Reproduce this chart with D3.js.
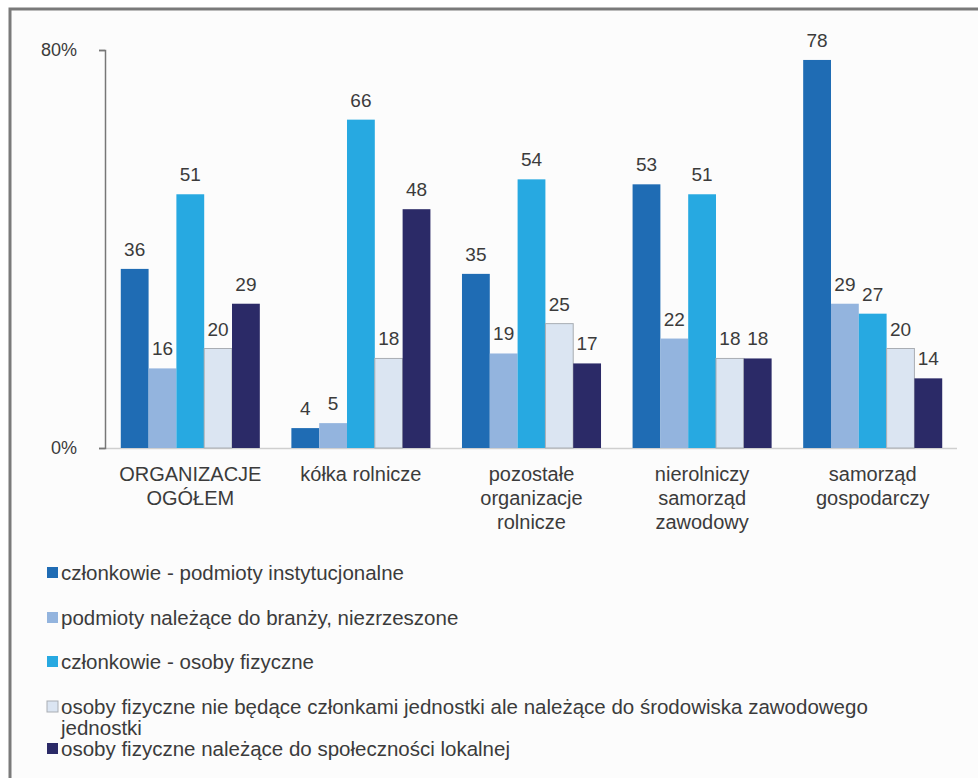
<!DOCTYPE html>
<html>
<head>
<meta charset="utf-8">
<script src="https://cdn.jsdelivr.net/npm/d3@7"></script>
<style>
  html, body { margin: 0; padding: 0; background: #ffffff; }
  svg { display: block; font-family: "Liberation Sans", Arial, sans-serif; }
</style>
</head>
<body>
<div id="chart"></div>
<script>
// categories (line breaks as in the picture)
const categories = [
  ["ORGANIZACJE", "OGÓŁEM"],
  ["kółka rolnicze"],
  ["pozostałe", "organizacje", "rolnicze"],
  ["nierolniczy", "samorząd", "zawodowy"],
  ["samorząd", "gospodarczy"]
];

const seriesNames = [
  "członkowie - podmioty instytucjonalne",
  "podmioty należące do branży, niezrzeszone",
  "członkowie - osoby fizyczne",
  "osoby fizyczne nie będące członkami jednostki ale należące do środowiska zawodowego|jednostki",
  "osoby fizyczne należące do społeczności lokalnej"
];

// values per series, in category order
const instytucjonalne = [36, 4, 35, 53, 78];
const niezrzeszone    = [16, 5, 19, 22, 29];
const osobyFizyczne   = [51, 66, 54, 51, 27];
const srodowisko      = [20, 18, 25, 18, 20];
const lokalna         = [29, 48, 17, 18, 14];

const seriesValues = [instytucjonalne, niezrzeszone, osobyFizyczne, srodowisko, lokalna];
const colors = ["#1f6cb4", "#93b4de", "#27a9e1", "#dbe5f2", "#2b2a67"];
const yTicks = [0, 80];

const width = 978, height = 778;
const svg = d3.select("#chart").append("svg")
  .attr("width", width).attr("height", height);

// frame
svg.append("rect").attr("x", 0).attr("y", 0).attr("width", width).attr("height", height).attr("fill", "#ffffff");
svg.append("rect").attr("x", 10).attr("y", 9).attr("width", width + 10).attr("height", height)
  .attr("fill", "#fcfcfc").attr("stroke", "#7a7a7a").attr("stroke-width", 3);

const x0 = d3.scaleBand().domain(d3.range(categories.length))
  .range([105, 958]).paddingInner(0.185).paddingOuter(0.0925);
const x1 = d3.scaleBand().domain(d3.range(seriesValues.length))
  .range([0, x0.bandwidth()]);
const y = d3.scaleLinear().domain([0, 80]).range([448, 50]);

const textColor = "#3b3b3b";

// baseline
svg.append("line").attr("x1", 105).attr("x2", 957)
  .attr("y1", y(0) + 0.5).attr("y2", y(0) + 0.5)
  .attr("stroke", "#cfcfcf").attr("stroke-width", 1.5);

// y axis
const yAxis = d3.axisLeft(y).tickValues(yTicks).tickSize(6).tickPadding(22)
  .tickFormat(d => d + "%");
const gy = svg.append("g").attr("transform", "translate(105,0)").call(yAxis);
gy.select(".domain").attr("stroke", "#777").attr("stroke-width", 1.5);
gy.selectAll(".tick line").attr("stroke", "#777").attr("stroke-width", 1.5);
gy.selectAll(".tick text").attr("fill", textColor).style("font-size", "18px")
  .style("font-family", "'Liberation Sans', Arial, sans-serif");

// bars
const groups = svg.selectAll("g.grp").data(categories).enter().append("g")
  .attr("class", "grp")
  .attr("transform", (d, i) => `translate(${x0(i)},0)`);

groups.each(function(cat, ci) {
  const g = d3.select(this);
  seriesValues.forEach((vals, si) => {
    const v = vals[ci];
    g.append("rect")
      .attr("x", x1(si)).attr("width", x1.bandwidth())
      .attr("y", y(v)).attr("height", y(0) - y(v))
      .attr("fill", colors[si])
      .attr("stroke", si === 3 ? "#a9adb3" : "none")
      .attr("stroke-width", 1);
    g.append("text")
      .attr("x", x1(si) + x1.bandwidth() / 2)
      .attr("y", y(v) - 13)
      .attr("text-anchor", "middle")
      .attr("fill", textColor)
      .style("font-size", "19px")
      .text(v);
  });
  // category label
  const t = g.append("text")
    .attr("text-anchor", "middle")
    .attr("fill", textColor)
    .style("font-size", "20px");
  cat.forEach((line, li) => {
    t.append("tspan").attr("x", x0.bandwidth() / 2)
      .attr("y", 481 + li * 24).text(line);
  });
});

// legend
const legendY = [573, 618, 662, 707, 749];
const legend = svg.append("g");
seriesNames.forEach((name, i) => {
  legend.append("rect")
    .attr("x", 47).attr("y", legendY[i] - 6).attr("width", 11).attr("height", 11)
    .attr("fill", colors[i])
    .attr("stroke", i === 3 ? "#a9adb3" : "none");
  const t = legend.append("text").attr("fill", textColor).style("font-size", "20.5px");
  name.split("|").forEach((line, li) => {
    t.append("tspan").attr("x", 61).attr("y", legendY[i] + 7 + li * 21).text(line);
  });
});
</script>
</body>
</html>
